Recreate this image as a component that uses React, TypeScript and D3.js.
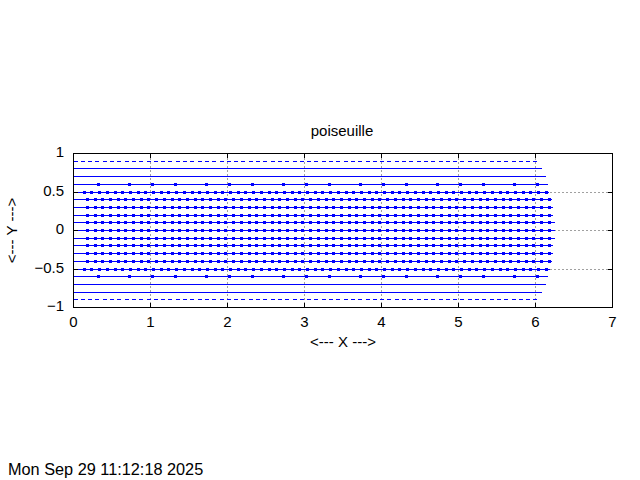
import React from "react";
import * as d3 from "d3";

// ---- data ----
const TITLE = "poiseuille";
const X_LABEL = "<--- X --->";
const Y_LABEL = "<--- Y --->";
const TIMESTAMP = "Mon Sep 29 11:12:18 2025";

const X_DOMAIN = [0, 7];
const Y_DOMAIN = [-1, 1];
const X_TICKS = [0, 1, 2, 3, 4, 5, 6, 7];
const Y_TICKS = [-1, -0.5, 0, 0.5, 1];
const X_GRID = [1, 2, 3, 4, 5, 6];
const Y_GRID = [-0.5, 0, 0.5];

// streamline heights and the x where each one ends
const ROW_Y = [0.9, 0.8, 0.7, 0.6, 0.5, 0.4, 0.3, 0.2, 0.1, 0, -0.1, -0.2, -0.3, -0.4, -0.5, -0.6, -0.7, -0.8, -0.9];
const ROW_END = [6.06, 6.09, 6.13, 6.16, 6.18, 6.21, 6.23, 6.23, 6.25, 6.25, 6.25, 6.23, 6.23, 6.21, 6.19, 6.16, 6.13, 6.09, 6.06];
// which set of point markers each row carries
const ROW_MARKS = ["dash", "none", "none", "sparse", "edge", "core", "core", "core", "core", "core", "core", "core", "core", "core", "edge", "sparse", "none", "none", "dash"];

const MARKS_SPARSE = [0.33, 0.73, 1.03, 1.33, 1.73, 2.03, 2.33, 2.73, 3.03, 3.33, 3.73, 4.03, 4.33, 4.73, 5.03, 5.33, 5.73, 6.03];
const MARKS_EDGE = [
  0.14, 0.24, 0.34, 0.44, 0.54, 0.64, 0.74, 0.84, 0.94, 1.04,
  1.14, 1.24, 1.34, 1.44, 1.54, 1.64, 1.74, 1.84, 1.94, 2.04,
  2.14, 2.24, 2.34, 2.44, 2.54, 2.64, 2.74, 2.84, 2.94, 3.04,
  3.14, 3.24, 3.34, 3.44, 3.54, 3.64, 3.74, 3.84, 3.94, 4.04,
  4.14, 4.24, 4.34, 4.44, 4.54, 4.64, 4.74, 4.84, 4.94, 5.04,
  5.14, 5.24, 5.34, 5.44, 5.54, 5.64, 5.74, 5.84, 5.94, 6.04,
  6.14,
];
const MARKS_CORE = [
  0.18, 0.28, 0.38, 0.48, 0.58, 0.68, 0.78, 0.88, 0.98, 1.08,
  1.18, 1.28, 1.38, 1.48, 1.58, 1.68, 1.78, 1.88, 1.98, 2.08,
  2.18, 2.28, 2.38, 2.48, 2.58, 2.68, 2.78, 2.88, 2.98, 3.08,
  3.18, 3.28, 3.38, 3.48, 3.58, 3.68, 3.78, 3.88, 3.98, 4.08,
  4.18, 4.28, 4.38, 4.48, 4.58, 4.68, 4.78, 4.88, 4.98, 5.08,
  5.18, 5.28, 5.38, 5.48, 5.58, 5.68, 5.78, 5.88, 5.98, 6.08,
  6.18,
];

// ---- styles ----
const W = 640;
const H = 480;
const LEFT = 73.5;
const RIGHT = 612.5;
const TOP = 153.5;
const BOTTOM = 307.5;
const FONT = "'Liberation Sans', Arial, sans-serif";
const FS = 15;
const BLUE = "#0000ff";
const GRID = "#a0a0a0";
const TICK = 4.5;
const MARK = 3;

function markerSet(kind: string): number[] {
  if (kind === "sparse") return MARKS_SPARSE;
  if (kind === "edge") return MARKS_EDGE;
  if (kind === "core") return MARKS_CORE;
  return [];
}

export default function App() {
  const x = d3.scaleLinear().domain(X_DOMAIN).range([LEFT, RIGHT]);
  const y = d3.scaleLinear().domain(Y_DOMAIN).range([BOTTOM, TOP]);
  const line = d3
    .line<[number, number]>()
    .x((d) => x(d[0]))
    .y((d) => Math.floor(y(d[1])) + 0.5);

  return (
    <svg
      width={W}
      height={H}
      style={{ position: "absolute", left: 0, top: 0, background: "#fff" }}
      fontFamily={FONT}
      fontSize={FS}
    >
      <rect x={0} y={0} width={W} height={H} fill="#fff" />
      {/* grid */}
      <g stroke={GRID} strokeWidth={1} strokeDasharray="2 2" shapeRendering="crispEdges">
        {X_GRID.map((v) => (
          <line key={"gx" + v} x1={x(v)} x2={x(v)} y1={TOP} y2={BOTTOM} />
        ))}
        {Y_GRID.map((v) => (
          <line key={"gy" + v} x1={LEFT} x2={RIGHT} y1={y(v)} y2={y(v)} />
        ))}
      </g>
      {/* streamlines */}
      <g>
        {ROW_Y.map((yv, i) => (
          <g key={"row" + i}>
            <path
              d={line([
                [0, yv],
                [ROW_END[i], yv],
              ]) as string}
              fill="none"
              stroke={BLUE}
              strokeWidth={1}
              strokeDasharray={ROW_MARKS[i] === "dash" ? "4 3.3" : undefined}
              shapeRendering="crispEdges"
            />
            {markerSet(ROW_MARKS[i]).map((mx, j) => {
              const px = Math.floor(x(mx));
              const py = Math.floor(y(yv));
              return (
                <rect
                  key={j}
                  x={px - 1}
                  y={py - 1}
                  width={MARK}
                  height={MARK}
                  fill={BLUE}
                  shapeRendering="crispEdges"
                />
              );
            })}
          </g>
        ))}
      </g>
      {/* border */}
      <rect
        x={LEFT}
        y={TOP}
        width={RIGHT - LEFT}
        height={BOTTOM - TOP}
        fill="none"
        stroke="#000"
        strokeWidth={1}
        shapeRendering="crispEdges"
      />
      {/* ticks */}
      <g stroke="#000" strokeWidth={1} shapeRendering="crispEdges">
        {X_TICKS.map((v) => (
          <g key={"xt" + v}>
            <line x1={x(v)} x2={x(v)} y1={BOTTOM} y2={BOTTOM - TICK} />
            <line x1={x(v)} x2={x(v)} y1={TOP} y2={TOP + TICK} />
          </g>
        ))}
        {Y_TICKS.map((v) => (
          <g key={"yt" + v}>
            <line x1={LEFT} x2={LEFT + TICK} y1={y(v)} y2={y(v)} />
            <line x1={RIGHT} x2={RIGHT - TICK} y1={y(v)} y2={y(v)} />
          </g>
        ))}
      </g>
      {/* tick labels */}
      <g fill="#000">
        {X_TICKS.map((v) => (
          <text key={"xl" + v} x={x(v)} y={327} textAnchor="middle">
            {d3.format("")(v)}
          </text>
        ))}
        {Y_TICKS.map((v) => (
          <text key={"yl" + v} x={64} y={y(v) + 3.5} textAnchor="end">
            {d3.format("")(v)}
          </text>
        ))}
      </g>
      {/* labels */}
      <text x={342} y={136} textAnchor="middle">{TITLE}</text>
      <text x={343} y={347} textAnchor="middle">{X_LABEL}</text>
      <text
        transform={`translate(17, 230.5) rotate(-90)`}
        textAnchor="middle"
      >
        {Y_LABEL}
      </text>
      <text x={8} y={475} fontSize={16.3}>{TIMESTAMP}</text>
    </svg>
  );
}
